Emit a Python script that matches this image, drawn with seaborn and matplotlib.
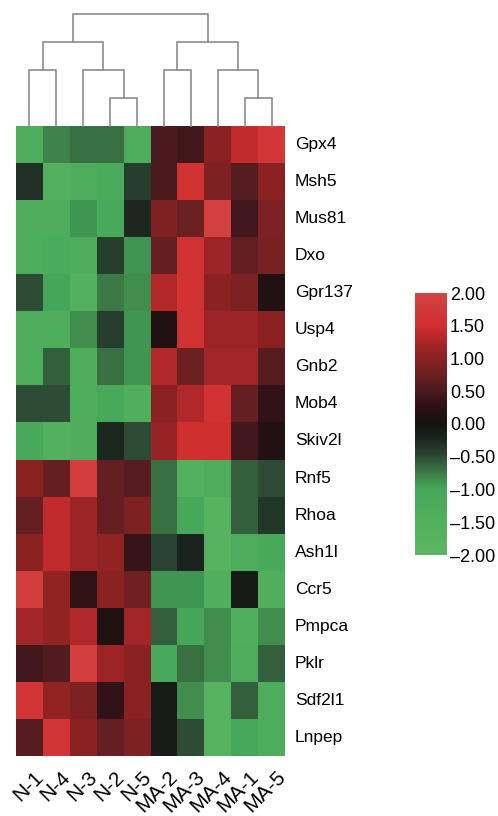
import numpy as np
import pandas as pd
import matplotlib
matplotlib.use("Agg")
import matplotlib.pyplot as plt
import matplotlib.transforms as mtransforms
import seaborn as sns
from matplotlib.colors import LinearSegmentedColormap
from matplotlib.ticker import FuncFormatter

# samples in display (clustered) order
samples = ["N-1", "N-4", "N-3", "N-2", "N-5", "MA-2", "MA-3", "MA-4", "MA-1", "MA-5"]
genes = ["Gpx4", "Msh5", "Mus81", "Dxo", "Gpr137", "Usp4", "Gnb2", "Mob4", "Skiv2l",
         "Rnf5", "Rhoa", "Ash1l", "Ccr5", "Pmpca", "Pklr", "Sdf2l1", "Lnpep"]

# z-scores, one row per gene
gpx4 = [-1.3, -0.8, -0.7, -0.7, -1.3, 0.5, 0.45, 1.0, 1.4, 1.7]
msh5 = [-0.3, -1.5, -1.3, -1.2, -0.4, 0.5, 1.6, 0.9, 0.6, 1.0]
mus81 = [-1.3, -1.3, -0.9, -1.1, -0.25, 0.9, 0.75, 1.9, 0.45, 0.9]
dxo = [-1.3, -1.2, -1.3, -0.4, -0.9, 0.7, 1.6, 1.15, 0.7, 0.85]
gpr137 = [-0.5, -1.0, -1.5, -0.75, -0.85, 1.3, 1.6, 1.0, 0.9, 0.15]
usp4 = [-1.3, -1.35, -0.85, -0.4, -0.9, 0.15, 1.6, 1.15, 1.15, 1.0]
gnb2 = [-1.3, -0.6, -1.3, -0.7, -0.9, 1.3, 0.75, 1.2, 1.2, 0.6]
mob4 = [-0.5, -0.5, -1.3, -1.1, -1.4, 1.0, 1.3, 1.6, 0.7, 0.3]
skiv2l = [-1.1, -1.5, -1.3, -0.25, -0.5, 1.1, 1.5, 1.5, 0.45, 0.15]
rnf5 = [1.0, 0.7, 1.8, 0.7, 0.6, -0.7, -1.5, -1.3, -0.6, -0.5]
rhoa = [0.7, 1.4, 1.15, 0.7, 0.9, -0.7, -1.05, -1.8, -0.6, -0.35]
ash1l = [1.0, 1.4, 1.15, 1.05, 0.35, -0.45, -0.2, -1.7, -1.3, -1.1]
ccr5 = [1.8, 1.05, 0.3, 1.0, 0.8, -0.9, -0.9, -1.4, -0.1, -1.4]
pmpca = [1.2, 1.05, 1.3, 0.15, 1.2, -0.6, -1.0, -0.85, -1.4, -0.85]
pklr = [0.45, 0.55, 1.85, 1.15, 1.0, -1.1, -0.7, -0.85, -1.3, -0.6]
sdf2l1 = [1.65, 1.05, 0.9, 0.3, 1.0, -0.12, -0.85, -1.7, -0.6, -1.3]
lnpep = [0.6, 1.65, 1.0, 0.7, 0.9, -0.12, -0.5, -1.7, -1.05, -1.3]

# column dendrogram: (left node, right node, height); leaves 0-9, new nodes 10+
merges = [(3, 4, 1), (0, 1, 2), (2, 10, 2), (11, 12, 3),
          (8, 9, 1), (5, 6, 2), (7, 14, 2), (15, 16, 3), (13, 17, 4)]

data = pd.DataFrame([gpx4, msh5, mus81, dxo, gpr137, usp4, gnb2, mob4, skiv2l,
                     rnf5, rhoa, ash1l, ccr5, pmpca, pklr, sdf2l1, lnpep],
                    index=genes, columns=samples)

# green - black - red palette
cmap = LinearSegmentedColormap.from_list("gbr", [
    (0.000, "#5cb560"), (0.125, "#52b05e"), (0.250, "#45a75a"),
    (0.3125, "#3c7a45"), (0.375, "#2e4c36"), (0.4375, "#1c2820"),
    (0.500, "#141210"), (0.5625, "#2a1014"), (0.625, "#4a1a1e"),
    (0.6875, "#6a2022"), (0.750, "#8a2222"), (0.8125, "#a82628"),
    (0.875, "#d02e2e"), (1.000, "#d44444")])

plt.rcParams["font.family"] = ["Liberation Sans", "DejaVu Sans"]

W, H = 498, 816
fig = plt.figure(figsize=(W / 100, H / 100), dpi=100)

def box(x0, y0, x1, y1):
    return [x0 / W, 1 - y1 / H, (x1 - x0) / W, (y1 - y0) / H]

ax = fig.add_axes(box(16, 126, 285, 756))
cax = fig.add_axes(box(415, 293, 447, 555))
dax = fig.add_axes(box(16, 13, 285, 126))

sns.heatmap(data, ax=ax, cmap=cmap, vmin=-2, vmax=2, cbar_ax=cax,
            xticklabels=True, yticklabels=True,
            cbar_kws={"ticks": np.arange(-2, 2.01, 0.5)})

ax.yaxis.tick_right()
ax.tick_params(axis="both", length=0)
ax.set_yticklabels(genes, rotation=0, va="center", fontsize=12.5)
ax.tick_params(axis="y", pad=7)
ax.set_xticklabels(samples, rotation=45, ha="right", rotation_mode="anchor",
                   va="center", fontsize=15)
ax.tick_params(axis="x", pad=13)
shift = mtransforms.ScaledTranslation(11 / 100, 0, fig.dpi_scale_trans)
for lab in ax.get_xticklabels():
    lab.set_transform(lab.get_transform() + shift)
ax.set_xlabel("")
ax.set_ylabel("")

cbar = ax.collections[0].colorbar
cbar.outline.set_linewidth(0)
cbar.ax.yaxis.set_major_formatter(FuncFormatter(lambda v, p: f"{v:.2f}".replace("-", "\u2013")))
cax.tick_params(length=0, labelsize=13, pad=2)

# dendrogram drawn from the merge table
pos = {i: i + 0.5 for i in range(len(samples))}
hgt = {i: 0.0 for i in range(len(samples))}
for k, (a, b, h) in enumerate(merges):
    node = len(samples) + k
    xa, xb = pos[a], pos[b]
    dax.plot([xa, xa, xb, xb], [hgt[a], h, h, hgt[b]], color="#8c8c8c", lw=1.2,
             solid_joinstyle="miter", clip_on=False)
    pos[node] = (xa + xb) / 2
    hgt[node] = h
dax.set_xlim(0, len(samples))
dax.set_ylim(0, 4.03)
dax.axis("off")

fig.savefig("out.png", dpi=100)
